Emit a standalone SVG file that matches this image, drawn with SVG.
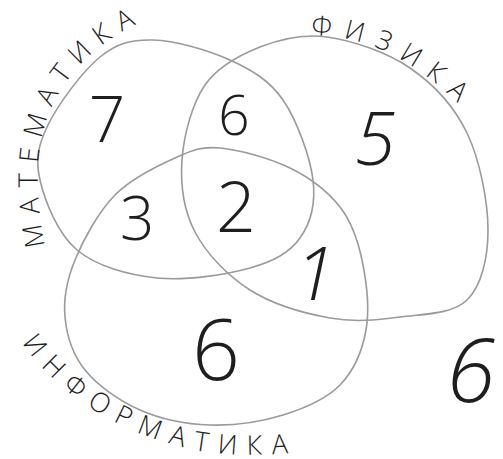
<svg xmlns="http://www.w3.org/2000/svg" width="503" height="459" viewBox="0 0 503 459">
<style>
.set{fill:none;stroke:#9a9a9a;stroke-width:1.6;stroke-linejoin:round}
.num{font-family:"Open Sans","DejaVu Sans",sans-serif;font-weight:300;fill:#1e1e1e;text-anchor:middle}
.lbl{font-family:"Open Sans","DejaVu Sans",sans-serif;font-weight:300;fill:#1e1e1e;font-size:27px}
</style>
<defs>
<path id="pMath" d="M45,246 C36,200 34,160 46,122 C58,84 92,40 152,18"/>
<path id="pPhys" d="M311,35 C362,35 412,56 468,113"/>
<path id="pInf" d="M22,343 C60,396 120,435 200,451 C240,457 270,455 312,451"/>
</defs>
<rect width="503" height="459" fill="#ffffff"/>
<g id="math">
<path class="set" d="M153,40 C174.7,40.5 208.3,50 230,60 C251.7,70 269.2,80 283,100 C296.8,120 310.2,157 313,180 C315.8,203 310.5,223.3 300,238 C289.5,252.7 273.8,261.3 250,268 C226.2,274.7 185.8,281 157,278 C128.2,275 96.5,266.3 77,250 C57.5,233.7 44.8,200.8 40,180 C35.2,159.2 38,145.5 48,125 C58,104.5 82.5,71.2 100,57 C117.5,42.8 131.3,39.5 153,40 Z"/>
<text class="lbl"><textPath href="#pMath" textLength="262" lengthAdjust="spacing">МАТЕМАТИКА</textPath></text>
</g>
<g id="physics">
<path class="set" d="M327,37 C352,40.5 386.7,52 410,68 C433.3,84 454,106 467,133 C480,160 488,202.2 488,230 C488,257.8 481.7,285.5 467,300 C452.3,314.5 422.8,314 400,317 C377.2,320 355,322.5 330,318 C305,313.5 272.5,304.3 250,290 C227.5,275.7 206.3,253.7 195,232 C183.7,210.3 180.3,184.5 182,160 C183.7,135.5 192,103.8 205,85 C218,66.2 239.7,55 260,47 C280.3,39 302,33.5 327,37 Z"/>
<text class="lbl"><textPath href="#pPhys" textLength="166" lengthAdjust="spacing">ФИЗИКА</textPath></text>
</g>
<g id="informatics">
<path class="set" d="M220,148 C239.2,149.7 270,158.2 290,168 C310,177.8 328,191.7 340,207 C352,222.3 357.7,239.5 362,260 C366.3,280.5 369.7,309.2 366,330 C362.3,350.8 353.8,370.8 340,385 C326.2,399.2 304.7,408.3 283,415 C261.3,421.7 233.8,425.8 210,425 C186.2,424.2 160.8,419.2 140,410 C119.2,400.8 97.5,385.5 85,370 C72.5,354.5 66.7,335.3 65,317 C63.3,298.7 66.7,280.3 75,260 C83.3,239.7 98.3,212 115,195 C131.7,178 157.5,165.8 175,158 C192.5,150.2 200.8,146.3 220,148 Z"/>
<text class="lbl"><textPath href="#pInf" textLength="302" lengthAdjust="spacing">ИНФОРМАТИКА</textPath></text>
</g>
<g id="counts">
<text class="num" x="107" y="142" font-size="64">7</text>
<text class="num" x="234" y="135" font-size="55">6</text>
<text class="num" x="375" y="165" font-size="74" font-style="italic">5</text>
<text class="num" x="137" y="240" font-size="60">3</text>
<text class="num" x="236" y="232" font-size="70">2</text>
<text class="num" x="315" y="300" font-size="74" font-style="italic">1</text>
<text class="num" x="216" y="380" font-size="84">6</text>
<text class="num" x="471" y="402" font-size="88" font-style="italic">6</text>
</g>
<g id="connectors"/>
</svg>
